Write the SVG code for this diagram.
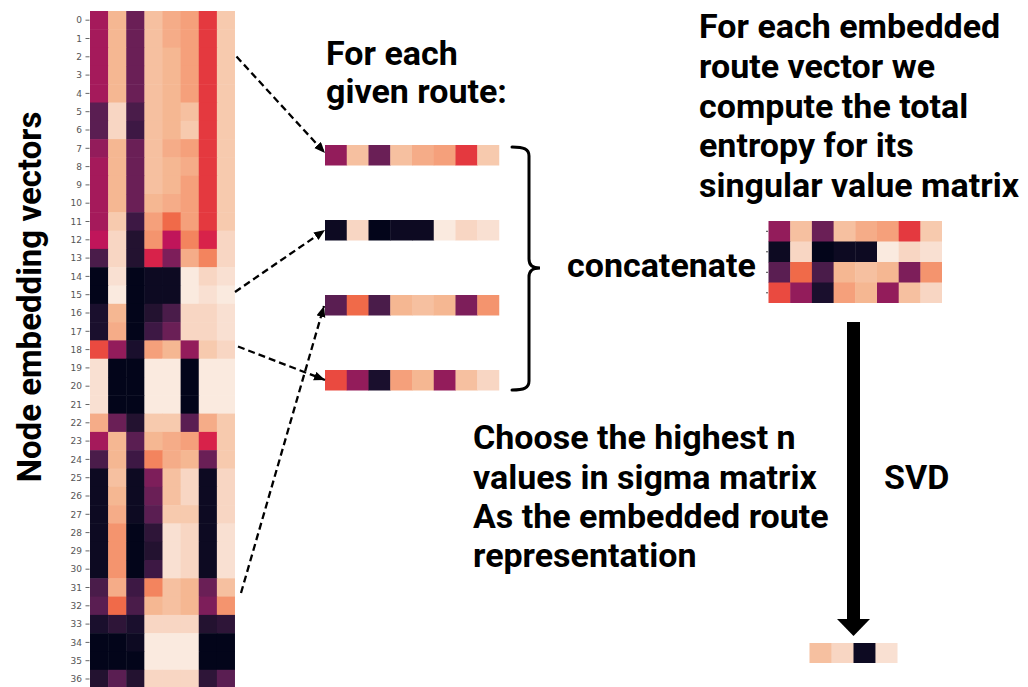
<svg xmlns="http://www.w3.org/2000/svg" width="1028" height="687" viewBox="0 0 1028 687">
<style>
.k0{fill:#03051a}.k1{fill:#0d0a22}.k2{fill:#1a0f2d}.k3{fill:#231230}.k4{fill:#2e1538}.k5{fill:#3d1844}.k6{fill:#4a1c4a}.k7{fill:#5a1e52}.k8{fill:#6a1f56}.k9{fill:#7d1e5a}.k10{fill:#931c5b}.k11{fill:#a51a5b}.k12{fill:#c0155a}.k13{fill:#d8224a}.k14{fill:#e4393f}.k15{fill:#ea4a40}.k16{fill:#f06a49}.k17{fill:#f3845e}.k18{fill:#f4946e}.k19{fill:#f5a07b}.k20{fill:#f5ac88}.k21{fill:#f5b792}.k22{fill:#f6c0a0}.k23{fill:#f7caae}.k24{fill:#f8d6c3}.k25{fill:#f9e0d2}.k26{fill:#faeadf}
.lbl{font-family:Roboto,"Liberation Sans",sans-serif;font-weight:700;font-size:34px;fill:#000}
.tick{font-family:"DejaVu Sans","Liberation Sans",sans-serif;font-size:9px;fill:#555;text-anchor:end}
.dash{fill:none;stroke:#000;stroke-width:2.3;stroke-dasharray:7 4;marker-end:url(#ah)}
</style>
<defs>
<marker id="ah" markerUnits="userSpaceOnUse" markerWidth="12" markerHeight="10" refX="11" refY="4.5" orient="auto">
<path d="M0,0 L11,4.5 L0,9 Z" fill="#000"/>
</marker>
</defs>
<rect width="1028" height="687" fill="#fff"/>

<!-- heatmap of node embedding vectors: 37 rows x 8 columns -->
<g id="heatmap">
<g transform="translate(0,11)"><rect x="90" width="18.6" height="18.8" class="k11"/><rect x="108.125" width="18.6" height="18.8" class="k21"/><rect x="126.25" width="18.6" height="18.8" class="k8"/><rect x="144.375" width="18.6" height="18.8" class="k22"/><rect x="162.5" width="18.6" height="18.8" class="k20"/><rect x="180.625" width="18.6" height="18.8" class="k19"/><rect x="198.75" width="18.6" height="18.8" class="k14"/><rect x="216.875" width="18.1" height="18.8" class="k23"/></g>
<g transform="translate(0,29.3)"><rect x="90" width="18.6" height="18.8" class="k11"/><rect x="108.125" width="18.6" height="18.8" class="k21"/><rect x="126.25" width="18.6" height="18.8" class="k8"/><rect x="144.375" width="18.6" height="18.8" class="k22"/><rect x="162.5" width="18.6" height="18.8" class="k20"/><rect x="180.625" width="18.6" height="18.8" class="k19"/><rect x="198.75" width="18.6" height="18.8" class="k14"/><rect x="216.875" width="18.1" height="18.8" class="k23"/></g>
<g transform="translate(0,47.6)"><rect x="90" width="18.6" height="18.8" class="k11"/><rect x="108.125" width="18.6" height="18.8" class="k21"/><rect x="126.25" width="18.6" height="18.8" class="k8"/><rect x="144.375" width="18.6" height="18.8" class="k22"/><rect x="162.5" width="18.6" height="18.8" class="k21"/><rect x="180.625" width="18.6" height="18.8" class="k19"/><rect x="198.75" width="18.6" height="18.8" class="k14"/><rect x="216.875" width="18.1" height="18.8" class="k23"/></g>
<g transform="translate(0,65.9)"><rect x="90" width="18.6" height="18.8" class="k11"/><rect x="108.125" width="18.6" height="18.8" class="k21"/><rect x="126.25" width="18.6" height="18.8" class="k8"/><rect x="144.375" width="18.6" height="18.8" class="k22"/><rect x="162.5" width="18.6" height="18.8" class="k21"/><rect x="180.625" width="18.6" height="18.8" class="k19"/><rect x="198.75" width="18.6" height="18.8" class="k14"/><rect x="216.875" width="18.1" height="18.8" class="k23"/></g>
<g transform="translate(0,84.2)"><rect x="90" width="18.6" height="18.8" class="k11"/><rect x="108.125" width="18.6" height="18.8" class="k21"/><rect x="126.25" width="18.6" height="18.8" class="k8"/><rect x="144.375" width="18.6" height="18.8" class="k22"/><rect x="162.5" width="18.6" height="18.8" class="k21"/><rect x="180.625" width="18.6" height="18.8" class="k19"/><rect x="198.75" width="18.6" height="18.8" class="k14"/><rect x="216.875" width="18.1" height="18.8" class="k23"/></g>
<g transform="translate(0,102.5)"><rect x="90" width="18.6" height="18.8" class="k7"/><rect x="108.125" width="18.6" height="18.8" class="k24"/><rect x="126.25" width="18.6" height="18.8" class="k6"/><rect x="144.375" width="18.6" height="18.8" class="k22"/><rect x="162.5" width="18.6" height="18.8" class="k21"/><rect x="180.625" width="18.6" height="18.8" class="k22"/><rect x="198.75" width="18.6" height="18.8" class="k14"/><rect x="216.875" width="18.1" height="18.8" class="k23"/></g>
<g transform="translate(0,120.8)"><rect x="90" width="18.6" height="18.8" class="k7"/><rect x="108.125" width="18.6" height="18.8" class="k24"/><rect x="126.25" width="18.6" height="18.8" class="k5"/><rect x="144.375" width="18.6" height="18.8" class="k22"/><rect x="162.5" width="18.6" height="18.8" class="k21"/><rect x="180.625" width="18.6" height="18.8" class="k23"/><rect x="198.75" width="18.6" height="18.8" class="k14"/><rect x="216.875" width="18.1" height="18.8" class="k23"/></g>
<g transform="translate(0,139.1)"><rect x="90" width="18.6" height="18.8" class="k10"/><rect x="108.125" width="18.6" height="18.8" class="k21"/><rect x="126.25" width="18.6" height="18.8" class="k8"/><rect x="144.375" width="18.6" height="18.8" class="k22"/><rect x="162.5" width="18.6" height="18.8" class="k20"/><rect x="180.625" width="18.6" height="18.8" class="k19"/><rect x="198.75" width="18.6" height="18.8" class="k14"/><rect x="216.875" width="18.1" height="18.8" class="k23"/></g>
<g transform="translate(0,157.4)"><rect x="90" width="18.6" height="18.8" class="k11"/><rect x="108.125" width="18.6" height="18.8" class="k21"/><rect x="126.25" width="18.6" height="18.8" class="k8"/><rect x="144.375" width="18.6" height="18.8" class="k22"/><rect x="162.5" width="18.6" height="18.8" class="k21"/><rect x="180.625" width="18.6" height="18.8" class="k20"/><rect x="198.75" width="18.6" height="18.8" class="k14"/><rect x="216.875" width="18.1" height="18.8" class="k23"/></g>
<g transform="translate(0,175.7)"><rect x="90" width="18.6" height="18.8" class="k11"/><rect x="108.125" width="18.6" height="18.8" class="k21"/><rect x="126.25" width="18.6" height="18.8" class="k8"/><rect x="144.375" width="18.6" height="18.8" class="k22"/><rect x="162.5" width="18.6" height="18.8" class="k21"/><rect x="180.625" width="18.6" height="18.8" class="k19"/><rect x="198.75" width="18.6" height="18.8" class="k14"/><rect x="216.875" width="18.1" height="18.8" class="k23"/></g>
<g transform="translate(0,194)"><rect x="90" width="18.6" height="18.8" class="k11"/><rect x="108.125" width="18.6" height="18.8" class="k21"/><rect x="126.25" width="18.6" height="18.8" class="k8"/><rect x="144.375" width="18.6" height="18.8" class="k21"/><rect x="162.5" width="18.6" height="18.8" class="k20"/><rect x="180.625" width="18.6" height="18.8" class="k19"/><rect x="198.75" width="18.6" height="18.8" class="k14"/><rect x="216.875" width="18.1" height="18.8" class="k23"/></g>
<g transform="translate(0,212.3)"><rect x="90" width="18.6" height="18.8" class="k11"/><rect x="108.125" width="18.6" height="18.8" class="k23"/><rect x="126.25" width="18.6" height="18.8" class="k5"/><rect x="144.375" width="18.6" height="18.8" class="k19"/><rect x="162.5" width="18.6" height="18.8" class="k16"/><rect x="180.625" width="18.6" height="18.8" class="k19"/><rect x="198.75" width="18.6" height="18.8" class="k14"/><rect x="216.875" width="18.1" height="18.8" class="k23"/></g>
<g transform="translate(0,230.6)"><rect x="90" width="18.6" height="18.8" class="k12"/><rect x="108.125" width="18.6" height="18.8" class="k24"/><rect x="126.25" width="18.6" height="18.8" class="k3"/><rect x="144.375" width="18.6" height="18.8" class="k18"/><rect x="162.5" width="18.6" height="18.8" class="k12"/><rect x="180.625" width="18.6" height="18.8" class="k17"/><rect x="198.75" width="18.6" height="18.8" class="k13"/><rect x="216.875" width="18.1" height="18.8" class="k24"/></g>
<g transform="translate(0,248.9)"><rect x="90" width="18.6" height="18.8" class="k6"/><rect x="108.125" width="18.6" height="18.8" class="k24"/><rect x="126.25" width="18.6" height="18.8" class="k3"/><rect x="144.375" width="18.6" height="18.8" class="k13"/><rect x="162.5" width="18.6" height="18.8" class="k9"/><rect x="180.625" width="18.6" height="18.8" class="k20"/><rect x="198.75" width="18.6" height="18.8" class="k17"/><rect x="216.875" width="18.1" height="18.8" class="k24"/></g>
<g transform="translate(0,267.2)"><rect x="90" width="18.6" height="18.8" class="k0"/><rect x="108.125" width="18.6" height="18.8" class="k25"/><rect x="126.25" width="18.6" height="18.8" class="k0"/><rect x="144.375" width="18.6" height="18.8" class="k1"/><rect x="162.5" width="18.6" height="18.8" class="k1"/><rect x="180.625" width="18.6" height="18.8" class="k26"/><rect x="198.75" width="18.6" height="18.8" class="k24"/><rect x="216.875" width="18.1" height="18.8" class="k25"/></g>
<g transform="translate(0,285.5)"><rect x="90" width="18.6" height="18.8" class="k0"/><rect x="108.125" width="18.6" height="18.8" class="k26"/><rect x="126.25" width="18.6" height="18.8" class="k0"/><rect x="144.375" width="18.6" height="18.8" class="k1"/><rect x="162.5" width="18.6" height="18.8" class="k1"/><rect x="180.625" width="18.6" height="18.8" class="k26"/><rect x="198.75" width="18.6" height="18.8" class="k25"/><rect x="216.875" width="18.1" height="18.8" class="k26"/></g>
<g transform="translate(0,303.8)"><rect x="90" width="18.6" height="18.8" class="k2"/><rect x="108.125" width="18.6" height="18.8" class="k21"/><rect x="126.25" width="18.6" height="18.8" class="k0"/><rect x="144.375" width="18.6" height="18.8" class="k3"/><rect x="162.5" width="18.6" height="18.8" class="k6"/><rect x="180.625" width="18.6" height="18.8" class="k24"/><rect x="198.75" width="18.6" height="18.8" class="k24"/><rect x="216.875" width="18.1" height="18.8" class="k25"/></g>
<g transform="translate(0,322.1)"><rect x="90" width="18.6" height="18.8" class="k2"/><rect x="108.125" width="18.6" height="18.8" class="k20"/><rect x="126.25" width="18.6" height="18.8" class="k0"/><rect x="144.375" width="18.6" height="18.8" class="k5"/><rect x="162.5" width="18.6" height="18.8" class="k8"/><rect x="180.625" width="18.6" height="18.8" class="k24"/><rect x="198.75" width="18.6" height="18.8" class="k24"/><rect x="216.875" width="18.1" height="18.8" class="k25"/></g>
<g transform="translate(0,340.4)"><rect x="90" width="18.6" height="18.8" class="k15"/><rect x="108.125" width="18.6" height="18.8" class="k10"/><rect x="126.25" width="18.6" height="18.8" class="k2"/><rect x="144.375" width="18.6" height="18.8" class="k19"/><rect x="162.5" width="18.6" height="18.8" class="k21"/><rect x="180.625" width="18.6" height="18.8" class="k10"/><rect x="198.75" width="18.6" height="18.8" class="k23"/><rect x="216.875" width="18.1" height="18.8" class="k24"/></g>
<g transform="translate(0,358.7)"><rect x="90" width="18.6" height="18.8" class="k25"/><rect x="108.125" width="18.6" height="18.8" class="k0"/><rect x="126.25" width="18.6" height="18.8" class="k0"/><rect x="144.375" width="18.6" height="18.8" class="k26"/><rect x="162.5" width="18.6" height="18.8" class="k26"/><rect x="180.625" width="18.6" height="18.8" class="k0"/><rect x="198.75" width="18.6" height="18.8" class="k26"/><rect x="216.875" width="18.1" height="18.8" class="k26"/></g>
<g transform="translate(0,377)"><rect x="90" width="18.6" height="18.8" class="k25"/><rect x="108.125" width="18.6" height="18.8" class="k0"/><rect x="126.25" width="18.6" height="18.8" class="k0"/><rect x="144.375" width="18.6" height="18.8" class="k26"/><rect x="162.5" width="18.6" height="18.8" class="k26"/><rect x="180.625" width="18.6" height="18.8" class="k0"/><rect x="198.75" width="18.6" height="18.8" class="k26"/><rect x="216.875" width="18.1" height="18.8" class="k26"/></g>
<g transform="translate(0,395.3)"><rect x="90" width="18.6" height="18.8" class="k25"/><rect x="108.125" width="18.6" height="18.8" class="k0"/><rect x="126.25" width="18.6" height="18.8" class="k0"/><rect x="144.375" width="18.6" height="18.8" class="k26"/><rect x="162.5" width="18.6" height="18.8" class="k26"/><rect x="180.625" width="18.6" height="18.8" class="k0"/><rect x="198.75" width="18.6" height="18.8" class="k26"/><rect x="216.875" width="18.1" height="18.8" class="k26"/></g>
<g transform="translate(0,413.6)"><rect x="90" width="18.6" height="18.8" class="k20"/><rect x="108.125" width="18.6" height="18.8" class="k8"/><rect x="126.25" width="18.6" height="18.8" class="k3"/><rect x="144.375" width="18.6" height="18.8" class="k23"/><rect x="162.5" width="18.6" height="18.8" class="k23"/><rect x="180.625" width="18.6" height="18.8" class="k7"/><rect x="198.75" width="18.6" height="18.8" class="k20"/><rect x="216.875" width="18.1" height="18.8" class="k23"/></g>
<g transform="translate(0,431.9)"><rect x="90" width="18.6" height="18.8" class="k11"/><rect x="108.125" width="18.6" height="18.8" class="k21"/><rect x="126.25" width="18.6" height="18.8" class="k7"/><rect x="144.375" width="18.6" height="18.8" class="k21"/><rect x="162.5" width="18.6" height="18.8" class="k20"/><rect x="180.625" width="18.6" height="18.8" class="k19"/><rect x="198.75" width="18.6" height="18.8" class="k13"/><rect x="216.875" width="18.1" height="18.8" class="k23"/></g>
<g transform="translate(0,450.2)"><rect x="90" width="18.6" height="18.8" class="k6"/><rect x="108.125" width="18.6" height="18.8" class="k21"/><rect x="126.25" width="18.6" height="18.8" class="k5"/><rect x="144.375" width="18.6" height="18.8" class="k17"/><rect x="162.5" width="18.6" height="18.8" class="k20"/><rect x="180.625" width="18.6" height="18.8" class="k21"/><rect x="198.75" width="18.6" height="18.8" class="k8"/><rect x="216.875" width="18.1" height="18.8" class="k23"/></g>
<g transform="translate(0,468.5)"><rect x="90" width="18.6" height="18.8" class="k1"/><rect x="108.125" width="18.6" height="18.8" class="k22"/><rect x="126.25" width="18.6" height="18.8" class="k1"/><rect x="144.375" width="18.6" height="18.8" class="k9"/><rect x="162.5" width="18.6" height="18.8" class="k22"/><rect x="180.625" width="18.6" height="18.8" class="k24"/><rect x="198.75" width="18.6" height="18.8" class="k1"/><rect x="216.875" width="18.1" height="18.8" class="k24"/></g>
<g transform="translate(0,486.8)"><rect x="90" width="18.6" height="18.8" class="k1"/><rect x="108.125" width="18.6" height="18.8" class="k21"/><rect x="126.25" width="18.6" height="18.8" class="k1"/><rect x="144.375" width="18.6" height="18.8" class="k8"/><rect x="162.5" width="18.6" height="18.8" class="k22"/><rect x="180.625" width="18.6" height="18.8" class="k24"/><rect x="198.75" width="18.6" height="18.8" class="k1"/><rect x="216.875" width="18.1" height="18.8" class="k24"/></g>
<g transform="translate(0,505.1)"><rect x="90" width="18.6" height="18.8" class="k1"/><rect x="108.125" width="18.6" height="18.8" class="k20"/><rect x="126.25" width="18.6" height="18.8" class="k1"/><rect x="144.375" width="18.6" height="18.8" class="k7"/><rect x="162.5" width="18.6" height="18.8" class="k23"/><rect x="180.625" width="18.6" height="18.8" class="k23"/><rect x="198.75" width="18.6" height="18.8" class="k1"/><rect x="216.875" width="18.1" height="18.8" class="k24"/></g>
<g transform="translate(0,523.4)"><rect x="90" width="18.6" height="18.8" class="k1"/><rect x="108.125" width="18.6" height="18.8" class="k18"/><rect x="126.25" width="18.6" height="18.8" class="k0"/><rect x="144.375" width="18.6" height="18.8" class="k4"/><rect x="162.5" width="18.6" height="18.8" class="k25"/><rect x="180.625" width="18.6" height="18.8" class="k24"/><rect x="198.75" width="18.6" height="18.8" class="k1"/><rect x="216.875" width="18.1" height="18.8" class="k25"/></g>
<g transform="translate(0,541.7)"><rect x="90" width="18.6" height="18.8" class="k1"/><rect x="108.125" width="18.6" height="18.8" class="k18"/><rect x="126.25" width="18.6" height="18.8" class="k0"/><rect x="144.375" width="18.6" height="18.8" class="k3"/><rect x="162.5" width="18.6" height="18.8" class="k25"/><rect x="180.625" width="18.6" height="18.8" class="k24"/><rect x="198.75" width="18.6" height="18.8" class="k1"/><rect x="216.875" width="18.1" height="18.8" class="k25"/></g>
<g transform="translate(0,560)"><rect x="90" width="18.6" height="18.8" class="k1"/><rect x="108.125" width="18.6" height="18.8" class="k18"/><rect x="126.25" width="18.6" height="18.8" class="k0"/><rect x="144.375" width="18.6" height="18.8" class="k5"/><rect x="162.5" width="18.6" height="18.8" class="k25"/><rect x="180.625" width="18.6" height="18.8" class="k24"/><rect x="198.75" width="18.6" height="18.8" class="k1"/><rect x="216.875" width="18.1" height="18.8" class="k25"/></g>
<g transform="translate(0,578.3)"><rect x="90" width="18.6" height="18.8" class="k6"/><rect x="108.125" width="18.6" height="18.8" class="k20"/><rect x="126.25" width="18.6" height="18.8" class="k5"/><rect x="144.375" width="18.6" height="18.8" class="k17"/><rect x="162.5" width="18.6" height="18.8" class="k22"/><rect x="180.625" width="18.6" height="18.8" class="k21"/><rect x="198.75" width="18.6" height="18.8" class="k8"/><rect x="216.875" width="18.1" height="18.8" class="k22"/></g>
<g transform="translate(0,596.6)"><rect x="90" width="18.6" height="18.8" class="k7"/><rect x="108.125" width="18.6" height="18.8" class="k16"/><rect x="126.25" width="18.6" height="18.8" class="k6"/><rect x="144.375" width="18.6" height="18.8" class="k21"/><rect x="162.5" width="18.6" height="18.8" class="k22"/><rect x="180.625" width="18.6" height="18.8" class="k21"/><rect x="198.75" width="18.6" height="18.8" class="k9"/><rect x="216.875" width="18.1" height="18.8" class="k18"/></g>
<g transform="translate(0,614.9)"><rect x="90" width="18.6" height="18.8" class="k2"/><rect x="108.125" width="18.6" height="18.8" class="k4"/><rect x="126.25" width="18.6" height="18.8" class="k2"/><rect x="144.375" width="18.6" height="18.8" class="k24"/><rect x="162.5" width="18.6" height="18.8" class="k24"/><rect x="180.625" width="18.6" height="18.8" class="k24"/><rect x="198.75" width="18.6" height="18.8" class="k3"/><rect x="216.875" width="18.1" height="18.8" class="k4"/></g>
<g transform="translate(0,633.2)"><rect x="90" width="18.6" height="18.8" class="k0"/><rect x="108.125" width="18.6" height="18.8" class="k0"/><rect x="126.25" width="18.6" height="18.8" class="k1"/><rect x="144.375" width="18.6" height="18.8" class="k26"/><rect x="162.5" width="18.6" height="18.8" class="k26"/><rect x="180.625" width="18.6" height="18.8" class="k26"/><rect x="198.75" width="18.6" height="18.8" class="k0"/><rect x="216.875" width="18.1" height="18.8" class="k0"/></g>
<g transform="translate(0,651.5)"><rect x="90" width="18.6" height="18.8" class="k0"/><rect x="108.125" width="18.6" height="18.8" class="k0"/><rect x="126.25" width="18.6" height="18.8" class="k0"/><rect x="144.375" width="18.6" height="18.8" class="k26"/><rect x="162.5" width="18.6" height="18.8" class="k26"/><rect x="180.625" width="18.6" height="18.8" class="k26"/><rect x="198.75" width="18.6" height="18.8" class="k0"/><rect x="216.875" width="18.1" height="18.8" class="k0"/></g>
<g transform="translate(0,669.8)"><rect x="90" width="18.6" height="18.8" class="k3"/><rect x="108.125" width="18.6" height="18.8" class="k7"/><rect x="126.25" width="18.6" height="18.8" class="k3"/><rect x="144.375" width="18.6" height="18.8" class="k24"/><rect x="162.5" width="18.6" height="18.8" class="k24"/><rect x="180.625" width="18.6" height="18.8" class="k24"/><rect x="198.75" width="18.6" height="18.8" class="k4"/><rect x="216.875" width="18.1" height="18.8" class="k7"/></g>
</g>

<!-- row index axis -->
<g id="row-axis">
<path d="M85.5 20.2h4M85.5 38.5h4M85.5 56.8h4M85.5 75.1h4M85.5 93.4h4M85.5 111.7h4M85.5 130h4M85.5 148.3h4M85.5 166.6h4M85.5 184.9h4M85.5 203.2h4M85.5 221.5h4M85.5 239.8h4M85.5 258.1h4M85.5 276.4h4M85.5 294.7h4M85.5 313h4M85.5 331.3h4M85.5 349.6h4M85.5 367.9h4M85.5 386.2h4M85.5 404.5h4M85.5 422.8h4M85.5 441.1h4M85.5 459.4h4M85.5 477.7h4M85.5 496h4M85.5 514.3h4M85.5 532.6h4M85.5 550.9h4M85.5 569.2h4M85.5 587.5h4M85.5 605.8h4M85.5 624.1h4M85.5 642.4h4M85.5 660.7h4M85.5 679h4" stroke="#555" stroke-width="0.9"/>
<text class="tick" x="82" y="23.4">0</text><text class="tick" x="82" y="41.7">1</text><text class="tick" x="82" y="60">2</text><text class="tick" x="82" y="78.3">3</text><text class="tick" x="82" y="96.6">4</text><text class="tick" x="82" y="114.9">5</text><text class="tick" x="82" y="133.2">6</text><text class="tick" x="82" y="151.5">7</text><text class="tick" x="82" y="169.8">8</text><text class="tick" x="82" y="188.1">9</text><text class="tick" x="82" y="206.4">10</text><text class="tick" x="82" y="224.7">11</text><text class="tick" x="82" y="243">12</text><text class="tick" x="82" y="261.3">13</text><text class="tick" x="82" y="279.6">14</text><text class="tick" x="82" y="297.9">15</text><text class="tick" x="82" y="316.2">16</text><text class="tick" x="82" y="334.5">17</text><text class="tick" x="82" y="352.8">18</text><text class="tick" x="82" y="371.1">19</text><text class="tick" x="82" y="389.4">20</text><text class="tick" x="82" y="407.7">21</text><text class="tick" x="82" y="426">22</text><text class="tick" x="82" y="444.3">23</text><text class="tick" x="82" y="462.6">24</text><text class="tick" x="82" y="480.9">25</text><text class="tick" x="82" y="499.2">26</text><text class="tick" x="82" y="517.5">27</text><text class="tick" x="82" y="535.8">28</text><text class="tick" x="82" y="554.1">29</text><text class="tick" x="82" y="572.4">30</text><text class="tick" x="82" y="590.7">31</text><text class="tick" x="82" y="609">32</text><text class="tick" x="82" y="627.3">33</text><text class="tick" x="82" y="645.6">34</text><text class="tick" x="82" y="663.9">35</text><text class="tick" x="82" y="682.2">36</text>
</g>

<g id="axis-title">
<text class="lbl" font-size="33" transform="translate(41,297) rotate(-90)" text-anchor="middle" style="font-size:33px">Node embedding vectors</text>
</g>

<!-- selected route vectors -->
<g id="route-1" transform="translate(0,145)"><rect x="325" width="22.2" height="20.5" class="k10"/><rect x="346.75" width="22.2" height="20.5" class="k22"/><rect x="368.5" width="22.2" height="20.5" class="k8"/><rect x="390.25" width="22.2" height="20.5" class="k22"/><rect x="412" width="22.2" height="20.5" class="k20"/><rect x="433.75" width="22.2" height="20.5" class="k19"/><rect x="455.5" width="22.2" height="20.5" class="k14"/><rect x="477.25" width="22" height="20.5" class="k23"/></g>
<g id="route-2" transform="translate(0,220)"><rect x="325" width="22.2" height="20.5" class="k1"/><rect x="346.75" width="22.2" height="20.5" class="k24"/><rect x="368.5" width="22.2" height="20.5" class="k0"/><rect x="390.25" width="22.2" height="20.5" class="k1"/><rect x="412" width="22.2" height="20.5" class="k1"/><rect x="433.75" width="22.2" height="20.5" class="k26"/><rect x="455.5" width="22.2" height="20.5" class="k24"/><rect x="477.25" width="22" height="20.5" class="k25"/></g>
<g id="route-3" transform="translate(0,295)"><rect x="325" width="22.2" height="20.5" class="k7"/><rect x="346.75" width="22.2" height="20.5" class="k16"/><rect x="368.5" width="22.2" height="20.5" class="k6"/><rect x="390.25" width="22.2" height="20.5" class="k21"/><rect x="412" width="22.2" height="20.5" class="k22"/><rect x="433.75" width="22.2" height="20.5" class="k21"/><rect x="455.5" width="22.2" height="20.5" class="k9"/><rect x="477.25" width="22" height="20.5" class="k18"/></g>
<g id="route-4" transform="translate(0,370)"><rect x="325" width="22.2" height="20.5" class="k15"/><rect x="346.75" width="22.2" height="20.5" class="k10"/><rect x="368.5" width="22.2" height="20.5" class="k2"/><rect x="390.25" width="22.2" height="20.5" class="k19"/><rect x="412" width="22.2" height="20.5" class="k21"/><rect x="433.75" width="22.2" height="20.5" class="k10"/><rect x="455.5" width="22.2" height="20.5" class="k22"/><rect x="477.25" width="22" height="20.5" class="k24"/></g>

<!-- concatenated route matrix -->
<g id="route-matrix">
<g transform="translate(0,221)"><rect x="768.5" width="22.1" height="21" class="k10"/><rect x="790.2" width="22.1" height="21" class="k22"/><rect x="811.9" width="22.1" height="21" class="k8"/><rect x="833.6" width="22.1" height="21" class="k22"/><rect x="855.3" width="22.1" height="21" class="k20"/><rect x="877" width="22.1" height="21" class="k19"/><rect x="898.7" width="22.1" height="21" class="k14"/><rect x="920.4" width="21.6" height="21" class="k23"/></g>
<g transform="translate(0,241.5)"><rect x="768.5" width="22.1" height="21" class="k1"/><rect x="790.2" width="22.1" height="21" class="k24"/><rect x="811.9" width="22.1" height="21" class="k0"/><rect x="833.6" width="22.1" height="21" class="k1"/><rect x="855.3" width="22.1" height="21" class="k1"/><rect x="877" width="22.1" height="21" class="k26"/><rect x="898.7" width="22.1" height="21" class="k24"/><rect x="920.4" width="21.6" height="21" class="k25"/></g>
<g transform="translate(0,262)"><rect x="768.5" width="22.1" height="21" class="k7"/><rect x="790.2" width="22.1" height="21" class="k16"/><rect x="811.9" width="22.1" height="21" class="k6"/><rect x="833.6" width="22.1" height="21" class="k21"/><rect x="855.3" width="22.1" height="21" class="k22"/><rect x="877" width="22.1" height="21" class="k21"/><rect x="898.7" width="22.1" height="21" class="k9"/><rect x="920.4" width="21.6" height="21" class="k18"/></g>
<g transform="translate(0,282.5)"><rect x="768.5" width="22.1" height="20.5" class="k15"/><rect x="790.2" width="22.1" height="20.5" class="k10"/><rect x="811.9" width="22.1" height="20.5" class="k2"/><rect x="833.6" width="22.1" height="20.5" class="k19"/><rect x="855.3" width="22.1" height="20.5" class="k21"/><rect x="877" width="22.1" height="20.5" class="k10"/><rect x="898.7" width="22.1" height="20.5" class="k22"/><rect x="920.4" width="21.6" height="20.5" class="k24"/></g>
<path d="M766 231.3h2M766 251.8h2M766 272.3h2M766 292.8h2" stroke="#444" stroke-width="1"/>
</g>

<!-- reduced route representation -->
<g id="route-embedding" transform="translate(0,643)"><rect x="809.5" width="22.4" height="20" class="k22"/><rect x="831.5" width="22.4" height="20" class="k24"/><rect x="853.5" width="22.4" height="20" class="k1"/><rect x="875.5" width="22" height="20" class="k25"/></g>

<!-- connectors -->
<g id="connectors">
<path class="dash" d="M236.5,56.5 L325,153"/>
<path class="dash" d="M235,292 L325,230"/>
<path class="dash" d="M241,593 L324,306"/>
<path class="dash" d="M238,346.5 L325,380"/>
<path d="M512,147 C524,147 529,149 529,156 L529,259 C529,265 532,268 540,268 C532,268 529,271 529,277 L529,381 C529,388 524,390 512,390" fill="none" stroke="#000" stroke-width="3" stroke-linecap="round"/>
<rect x="847" y="322" width="13" height="298" fill="#000"/>
<path d="M837,619 L870,619 L853.5,636 Z" fill="#000"/>
</g>

<!-- labels -->
<g id="label-routes">
<text class="lbl" x="326" y="65">For each</text>
<text class="lbl" x="326" y="103">given route:</text>
</g>
<g id="label-entropy">
<text class="lbl" x="699" y="38">For each embedded</text>
<text class="lbl" x="699" y="78">route vector we</text>
<text class="lbl" x="699" y="118">compute the total</text>
<text class="lbl" x="699" y="157">entropy for its</text>
<text class="lbl" x="699" y="197">singular value matrix</text>
</g>
<g id="label-concatenate">
<text class="lbl" x="567" y="277">concatenate</text>
</g>
<g id="label-choose">
<text class="lbl" x="473" y="449">Choose the highest n</text>
<text class="lbl" x="473" y="489">values in sigma matrix</text>
<text class="lbl" x="473" y="528">As the embedded route</text>
<text class="lbl" x="473" y="567">representation</text>
</g>
<g id="label-svd">
<text class="lbl" x="884" y="489">SVD</text>
</g>
</svg>
